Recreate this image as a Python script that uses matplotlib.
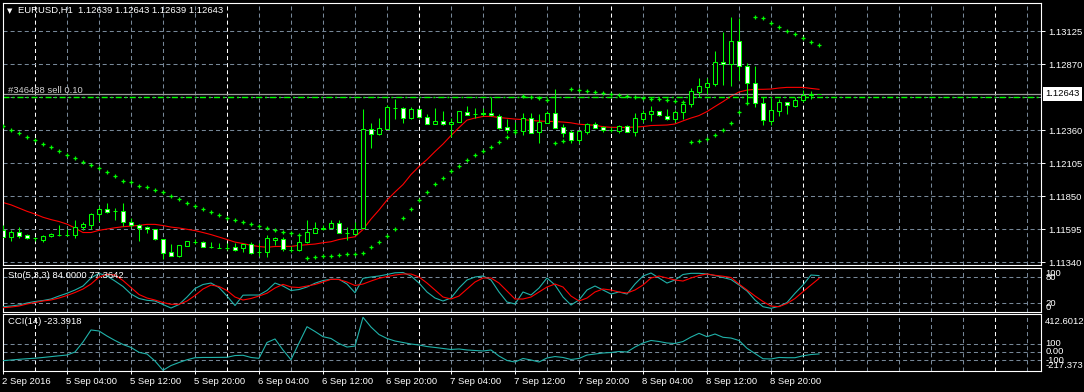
import matplotlib
matplotlib.use("Agg")
import matplotlib.pyplot as plt
from matplotlib.transforms import blended_transform_factory
import numpy as np

plt.rcParams['font.family'] = ['Liberation Sans', 'DejaVu Sans']
plt.rcParams['lines.scale_dashes'] = False

# EURUSD H1 candles, first bar = 2 Sep 2016 20:00
opens = [1.11594, 1.11538, 1.11572, 1.11549, 1.11526, 1.11515, 1.11541, 1.11551, 1.11549, 1.11551,
         1.11615, 1.11628, 1.11711, 1.11752, 1.11737, 1.11737, 1.11649, 1.11626, 1.11611, 1.11595,
         1.11518, 1.11420, 1.11389, 1.11468, 1.11501, 1.11495, 1.11462, 1.11454, 1.11448, 1.11456,
         1.11453, 1.11479, 1.11423, 1.11422, 1.11516, 1.11518, 1.11439, 1.11437, 1.11499, 1.11569,
         1.11601, 1.11607, 1.11641, 1.11570, 1.11559, 1.11607, 1.12368, 1.12329, 1.12373, 1.12537,
         1.12530, 1.12453, 1.12523, 1.12461, 1.12411, 1.12431, 1.12407, 1.12427, 1.12503, 1.12490,
         1.12492, 1.12492, 1.12471, 1.12386, 1.12364, 1.12357, 1.12455, 1.12350, 1.12419, 1.12494,
         1.12386, 1.12345, 1.12285, 1.12347, 1.12409, 1.12383, 1.12367, 1.12357, 1.12391, 1.12350,
         1.12450, 1.12489, 1.12507, 1.12471, 1.12450, 1.12500, 1.12561, 1.12659, 1.12697, 1.12716,
         1.12888, 1.12871, 1.13051, 1.12855, 1.12724, 1.12569, 1.12435, 1.12512, 1.12577, 1.12551,
         1.12592, 1.12633, 1.12639]
highs = [1.11628, 1.11590, 1.11613, 1.11559, 1.11538, 1.11551, 1.11567, 1.11628, 1.11595, 1.11667,
         1.11654, 1.11719, 1.11775, 1.11796, 1.11757, 1.11796, 1.11682, 1.11634, 1.11623, 1.11597,
         1.11520, 1.11481, 1.11474, 1.11509, 1.11518, 1.11505, 1.11499, 1.11492, 1.11492, 1.11492,
         1.11481, 1.11499, 1.11489, 1.11551, 1.11538, 1.11533, 1.11466, 1.11553, 1.11667, 1.11654,
         1.11628, 1.11667, 1.11667, 1.11613, 1.11654, 1.12525, 1.12417, 1.12455, 1.12556, 1.12602,
         1.12543, 1.12543, 1.12530, 1.12486, 1.12535, 1.12510, 1.12458, 1.12512, 1.12548, 1.12533,
         1.12537, 1.12620, 1.12484, 1.12445, 1.12427, 1.12492, 1.12492, 1.12484, 1.12510, 1.12680,
         1.12407, 1.12363, 1.12363, 1.12419, 1.12427, 1.12394, 1.12388, 1.12401, 1.12401, 1.12492,
         1.12517, 1.12548, 1.12512, 1.12525, 1.12517, 1.12587, 1.12690, 1.12767, 1.12767, 1.12973,
         1.13120, 1.13239, 1.13231, 1.12883, 1.12857, 1.12620, 1.12608, 1.12602, 1.12579, 1.12620,
         1.12672, 1.12666, 1.12643]
lows = [1.11536, 1.11505, 1.11528, 1.11518, 1.11507, 1.11499, 1.11536, 1.11546, 1.11546, 1.11530,
        1.11592, 1.11595, 1.11662, 1.11719, 1.11667, 1.11621, 1.11615, 1.11505, 1.11569, 1.11515,
        1.11368, 1.11389, 1.11385, 1.11466, 1.11481, 1.11458, 1.11453, 1.11448, 1.11435, 1.11427,
        1.11422, 1.11402, 1.11389, 1.11383, 1.11474, 1.11427, 1.11420, 1.11425, 1.11493, 1.11564,
        1.11590, 1.11607, 1.11564, 1.11512, 1.11559, 1.11607, 1.12226, 1.12322, 1.12370, 1.12445,
        1.12419, 1.12445, 1.12453, 1.12407, 1.12409, 1.12405, 1.12311, 1.12422, 1.12479, 1.12455,
        1.12471, 1.12471, 1.12372, 1.12337, 1.12332, 1.12324, 1.12337, 1.12260, 1.12414, 1.12376,
        1.12311, 1.12260, 1.12260, 1.12332, 1.12378, 1.12350, 1.12350, 1.12337, 1.12345, 1.12316,
        1.12427, 1.12430, 1.12471, 1.12440, 1.12427, 1.12448, 1.12543, 1.12620, 1.12641, 1.12703,
        1.12711, 1.12703, 1.12749, 1.12581, 1.12543, 1.12401, 1.12401, 1.12473, 1.12484, 1.12543,
        1.12581, 1.12602, 1.12639]
closes = [1.11538, 1.11572, 1.11546, 1.11526, 1.11528, 1.11543, 1.11559, 1.11553, 1.11551, 1.11611,
          1.11636, 1.11711, 1.11750, 1.11731, 1.11734, 1.11649, 1.11628, 1.11607, 1.11595, 1.11518,
          1.11414, 1.11393, 1.11474, 1.11505, 1.11499, 1.11461, 1.11461, 1.11453, 1.11448, 1.11439,
          1.11479, 1.11416, 1.11422, 1.11526, 1.11528, 1.11440, 1.11437, 1.11495, 1.11572, 1.11603,
          1.11607, 1.11641, 1.11564, 1.11569, 1.11595, 1.12368, 1.12329, 1.12376, 1.12538, 1.12534,
          1.12453, 1.12523, 1.12461, 1.12413, 1.12432, 1.12407, 1.12427, 1.12510, 1.12483, 1.12489,
          1.12490, 1.12476, 1.12380, 1.12360, 1.12363, 1.12455, 1.12342, 1.12424, 1.12494, 1.12380,
          1.12342, 1.12285, 1.12355, 1.12408, 1.12380, 1.12365, 1.12365, 1.12394, 1.12350, 1.12455,
          1.12494, 1.12507, 1.12476, 1.12450, 1.12500, 1.12561, 1.12664, 1.12703, 1.12728, 1.12886,
          1.12873, 1.13051, 1.12857, 1.12724, 1.12574, 1.12440, 1.12517, 1.12577, 1.12554, 1.12595,
          1.12633, 1.12639, 1.12643]

# Parabolic SAR
sar = [1.12391, 1.12364, 1.12337, 1.12310, 1.12283, 1.12256, 1.12229, 1.12201, 1.12174, 1.12147,
       1.12120, 1.12093, 1.12066, 1.12039, 1.12008, 1.11972, 1.11959, 1.11933, 1.11921, 1.11897,
       1.11882, 1.11853, 1.11828, 1.11797, 1.11773, 1.11750, 1.11727, 1.11704, 1.11681, 1.11665,
       1.11650, 1.11634, 1.11619, 1.11603, 1.11588, 1.11572, 1.11564, 1.11555, 1.11371, 1.11379,
       1.11386, 1.11386, 1.11394, 1.11402, 1.11402, 1.11410, 1.11456, 1.11495, 1.11541, 1.11595,
       1.11681, 1.11750, 1.11820, 1.11882, 1.11944, 1.11990, 1.12044, 1.12083, 1.12130, 1.12168,
       1.12199, 1.12230, 1.12269, 1.12308, 1.12345, 1.12625, 1.12617, 1.12609, 1.12594, 1.12261,
       1.12277, 1.12679, 1.12671, 1.12664, 1.12656, 1.12648, 1.12640, 1.12633, 1.12625, 1.12617,
       1.12609, 1.12605, 1.12602, 1.12594, 1.12586, 1.12578, 1.12269, 1.12277, 1.12294, 1.12321,
       1.12364, 1.12416, 1.12501, 1.12571, 1.13236, 1.13229, 1.13190, 1.13159, 1.13128, 1.13105,
       1.13074, 1.13043, 1.13020]

# red moving average
ma = [1.11803, 1.11785, 1.11760, 1.11735, 1.11714, 1.11689, 1.11671, 1.11656, 1.11636, 1.11606,
      1.11571, 1.11571, 1.11588, 1.11598, 1.11608, 1.11616, 1.11621, 1.11626, 1.11634, 1.11634,
      1.11625, 1.11613, 1.11606, 1.11596, 1.11586, 1.11571, 1.11555, 1.11536, 1.11517, 1.11497,
      1.11486, 1.11472, 1.11463, 1.11457, 1.11463, 1.11464, 1.11464, 1.11472, 1.11477, 1.11482,
      1.11492, 1.11500, 1.11517, 1.11528, 1.11538, 1.11594, 1.11675, 1.11745, 1.11822, 1.11884,
      1.11942, 1.12019, 1.12081, 1.12135, 1.12197, 1.12255, 1.12321, 1.12382, 1.12440, 1.12456,
      1.12468, 1.12469, 1.12460, 1.12454, 1.12448, 1.12444, 1.12438, 1.12433, 1.12430, 1.12429,
      1.12425, 1.12419, 1.12408, 1.12404, 1.12400, 1.12389, 1.12384, 1.12384, 1.12384, 1.12386,
      1.12390, 1.12398, 1.12400, 1.12402, 1.12410, 1.12434, 1.12456, 1.12475, 1.12506, 1.12545,
      1.12583, 1.12624, 1.12657, 1.12672, 1.12678, 1.12678, 1.12680, 1.12688, 1.12693, 1.12693,
      1.12693, 1.12685, 1.12678]

# Stochastic (5,3,3)
sto_k = [12.2, 13.8, 16.2, 20.8, 24.2, 26.5, 30.0, 36.9, 43.2, 50.8,
         60.0, 78.5, 89.3, 83.1, 71.5, 58.9, 41.5, 31.2, 27.0, 25.4,
         17.3, 9.2, 17.3, 34.6, 54.2, 63.5, 66.9, 56.5, 36.9, 15.0,
         38.8, 39.2, 39.2, 49.6, 66.9, 60.0, 49.6, 51.9, 57.7, 66.5,
         72.7, 75.5, 75.5, 64.6, 44.5, 77.8, 80.8, 83.1, 86.6, 90.5,
         91.2, 83.1, 66.9, 46.2, 32.3, 25.4, 32.3, 55.4, 73.9, 80.8,
         83.1, 73.9, 46.2, 23.1, 18.5, 46.2, 39.2, 55.4, 78.5, 62.3,
         34.6, 16.2, 27.7, 50.8, 60.0, 50.8, 41.5, 46.2, 41.5, 64.6,
         83.1, 90.0, 78.5, 66.9, 73.9, 86.6, 89.3, 89.3, 87.7, 84.2,
         79.6, 75.0, 62.3, 48.5, 27.7, 12.2, 8.5, 13.2, 21.9, 43.2,
         62.3, 85.4, 84.0]
sto_d = [9.9, 11.5, 13.8, 18.5, 21.9, 25.4, 27.7, 32.3, 38.1, 45.0,
         53.1, 64.6, 80.8, 87.0, 85.4, 72.7, 56.5, 40.4, 32.3, 27.7,
         21.9, 17.8, 17.8, 25.4, 38.1, 53.1, 62.3, 58.9, 49.6, 34.6,
         27.7, 31.2, 36.9, 43.4, 55.4, 63.9, 57.7, 56.5, 60.0, 63.5,
         69.2, 75.5, 75.0, 69.2, 61.2, 64.6, 71.5, 77.8, 81.9, 85.4,
         87.7, 87.7, 80.8, 66.9, 50.8, 34.6, 30.0, 36.9, 53.1, 69.2,
         78.5, 78.5, 66.9, 48.5, 30.0, 30.0, 34.6, 46.2, 57.7, 64.6,
         57.7, 36.9, 25.4, 32.3, 46.2, 53.1, 50.8, 46.2, 43.9, 50.8,
         62.3, 78.5, 83.1, 78.5, 73.9, 71.5, 78.5, 84.2, 87.7, 84.7,
         82.6, 79.6, 64.6, 50.8, 36.9, 24.2, 13.8, 12.2, 19.6, 31.2,
         46.9, 62.3, 77.3642]

# CCI(14)
cci = [-103, -95, -87, -80, -74, -65, -55, -45, -36, 0,
       119, 262, 250, 190, 137, 89, 54, -4, -24, -107,
       -217.373, -161, -125, -92, -68, -65, -65, -64, -63, -42,
       -39, -65, -75, 113, 155, 24, -92, 107, 301, 244,
       182, 161, 101, 59, 71, 412.6012, 297, 208, 161, 131,
       113, 95, 83, 65, 54, 42, 30, 36, 24, 18,
       12, 24, -48, -101, -119, -77, -95, -119, -71, -54,
       -65, -89, -77, -36, -24, -12, -6, 6, 0, 59,
       107, 137, 125, 107, 101, 125, 178, 222, 182, 214,
       175, 166, 137, 44, -18, -80, -83, -65, -68, -68,
       -45, -30, -23.3918]

price_levels = [1.11340, 1.11595, 1.11850, 1.12105, 1.12360, 1.12615, 1.12870, 1.13125]
price_labels = [1.11340, 1.11595, 1.11850, 1.12105, 1.12360, 1.12870, 1.13125]
bid = 1.12643
order_price = 1.12621
order_text = "#346488 sell 0.10"

time_idx = [0, 8, 16, 24, 32, 40, 48, 56, 64, 72, 80, 88, 96]
time_labels = ["2 Sep 2016", "5 Sep 04:00", "5 Sep 12:00", "5 Sep 20:00", "6 Sep 04:00",
               "6 Sep 12:00", "6 Sep 20:00", "7 Sep 04:00", "7 Sep 12:00", "7 Sep 20:00",
               "8 Sep 04:00", "8 Sep 12:00", "8 Sep 20:00"]
day_idx = [4, 28, 52, 76, 100, 124]

GRID = '#778899'
FS = 6.8
W, H = 1084, 392
fig = plt.figure(figsize=(W / 100, H / 100), dpi=100, facecolor='black')


def panel(top, bottom):
    a = fig.add_axes([2.5 / W, 1 - bottom / H, (1041 - 2.5) / W, (bottom - top) / H], facecolor='black')
    a.set_xlim(-0.0625, 129.75)
    for s in a.spines.values():
        s.set_color('white')
        s.set_linewidth(0.8)
    a.set_xticks([])
    a.set_yticks([])
    for k in range(0, 130, 4):
        if k in day_idx:
            a.axvline(k, color='white', lw=0.75, ls=(0, (2.9, 2.2)), zorder=1)
        else:
            a.axvline(k, color=GRID, lw=0.75, ls=(0, (2.9, 2.2)), zorder=1)
    return a


ax = panel(2.5, 265)
ax_sto = panel(268, 311.7)
ax_cci = panel(314, 371)

x = np.arange(len(opens))
o = np.array(opens)
c = np.array(closes)

# main chart
ax.set_ylim(1.11320, 1.13349)
for p in price_levels:
    ax.axhline(p, color=GRID, lw=0.75, ls=(0, (2.9, 2.2)), zorder=1)
ax.plot(x, ma, color='red', lw=0.8, zorder=2)
ax.vlines(x, lows, highs, color='lime', lw=0.75, zorder=3)
ax.bar(x, np.abs(c - o), bottom=np.minimum(o, c), width=0.5,
       color=np.where(c >= o, 'black', 'white'), edgecolor='lime', linewidth=0.75, zorder=4)
ax.plot(x, sar, ls='none', marker='+', ms=3, mew=0.9, color='lime', zorder=5)
ax.axhline(bid, color='#9a9a9a', lw=0.9, zorder=2)
ax.axhline(order_price, color='lime', lw=1.0, ls=(0, (4.3, 2.2, 1.4, 2.2)), zorder=2)
ax.text(0.6, bid + 0.00006, order_text, color='#d0d0d0', fontsize=FS, va='baseline', ha='left')

ax.yaxis.tick_right()
ax.set_yticks(price_labels)
ax.set_yticklabels([f"{p:.5f}" for p in price_labels])
ax.tick_params(axis='y', colors='white', length=3, width=0.7, pad=2, labelsize=FS)

tr = blended_transform_factory(ax.transAxes, ax.transData)
ax.text(1.0045, bid, f"{bid:.5f}", transform=tr, color='black', fontsize=FS, va='center', ha='left',
        bbox=dict(facecolor='white', edgecolor='none', boxstyle='square,pad=0.25'))

fig.text(7 / W, 1 - 11 / H, "\u25bc", color='white', fontsize=5, va='center', ha='left', family='DejaVu Sans')
fig.text(18 / W, 1 - 10.5 / H,
         f"EURUSD,H1  {opens[-1]:.5f} {highs[-1]:.5f} {lows[-1]:.5f} {closes[-1]:.5f}",
         color='white', fontsize=FS, va='center', ha='left')

# stochastic
ax_sto.set_ylim(0.7, 101.6)
for lv in (20, 80):
    ax_sto.axhline(lv, color=GRID, lw=0.75, ls=(0, (2.9, 2.2)), zorder=1)
ax_sto.plot(x, sto_k, color='#20B2AA', lw=0.8, zorder=3)
ax_sto.plot(x, sto_d, color='red', lw=0.8, zorder=3)
trs = blended_transform_factory(ax_sto.transAxes, ax_sto.transData)
ax_sto.text(1.004, 100, "100", transform=trs, color='white', fontsize=FS, va='top', ha='left')
ax_sto.text(1.004, 80, "80", transform=trs, color='white', fontsize=FS, va='center', ha='left')
ax_sto.text(1.004, 20, "20", transform=trs, color='white', fontsize=FS, va='center', ha='left')
ax_sto.text(1.004, 0, "0", transform=trs, color='white', fontsize=FS, va='bottom', ha='left')
ax_sto.text(5 / 1038.5, 0.82, f"Sto(5,3,3) {sto_k[-1]:.4f} {sto_d[-1]:.4f}", transform=ax_sto.transAxes,
            color='white', fontsize=FS, va='center', ha='left')

# CCI
ax_cci.set_ylim(-226, 452)
for lv in (100, 0, -100):
    ax_cci.axhline(lv, color=GRID, lw=0.75, ls=(0, (2.9, 2.2)), zorder=1)
ax_cci.plot(x, cci, color='#20B2AA', lw=0.8, zorder=3)
trc = blended_transform_factory(ax_cci.transAxes, ax_cci.transData)
ax_cci.text(1.004, max(cci), f"{max(cci):.4f}", transform=trc, color='white', fontsize=FS, va='top', ha='left')
ax_cci.text(1.004, 100, "100", transform=trc, color='white', fontsize=FS, va='center', ha='left')
ax_cci.text(1.004, 0, "0.00", transform=trc, color='white', fontsize=FS, va='center', ha='left')
ax_cci.text(1.004, -100, "-100", transform=trc, color='white', fontsize=FS, va='center', ha='left')
ax_cci.text(1.004, min(cci), f"{min(cci):.3f}", transform=trc, color='white', fontsize=FS, va='bottom', ha='left')
ax_cci.text(5 / 1038.5, 0.87, f"CCI(14) {cci[-1]:.4f}", transform=ax_cci.transAxes,
            color='white', fontsize=FS, va='center', ha='left')

# time axis
ax_cci.set_xticks(time_idx)
ax_cci.set_xticklabels([])
ax_cci.tick_params(axis='x', colors='white', length=2, width=0.7)
trt = blended_transform_factory(ax_cci.transData, ax_cci.transAxes)
for k, lab in zip(time_idx, time_labels):
    ax_cci.text(k - 0.1, -0.18, lab, transform=trt, color='white', fontsize=FS, va='center', ha='left')

fig.savefig("out.png", dpi=100, facecolor='black')
